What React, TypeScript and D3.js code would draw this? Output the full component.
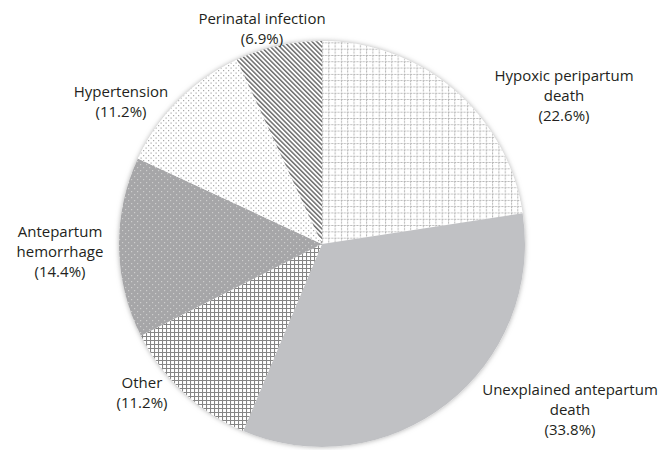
import React from 'react';
import * as d3 from 'd3';

// slices, clockwise from 12 o'clock
const causes = [
  'Hypoxic peripartum death',
  'Unexplained antepartum death',
  'Other',
  'Antepartum hemorrhage',
  'Hypertension',
  'Perinatal infection',
];
const shares = [22.6, 33.8, 11.2, 14.4, 11.2, 6.9];
const labelLines = [
  ['Hypoxic peripartum', 'death', '(22.6%)'],
  ['Unexplained antepartum', 'death', '(33.8%)'],
  ['Other', '(11.2%)'],
  ['Antepartum', 'hemorrhage', '(14.4%)'],
  ['Hypertension', '(11.2%)'],
  ['Perinatal infection', '(6.9%)'],
];

// label block centre, offset from the pie centre
const labelOffset = [
  { dx: 242, dy: -148 },
  { dx: 248, dy: 166 },
  { dx: -180, dy: 149 },
  { dx: -262, dy: 8 },
  { dx: -201, dy: -142 },
  { dx: -60, dy: -215 },
];

const fills = ['url(#gridLight)', '#c0c1c4', 'url(#gridDark)', 'url(#dotsGray)', 'url(#dotsWhite)', 'url(#stripes)'];

const width = 666;
const height = 450;
const cx = 322;
const cy = 244;
const radius = 203;
const lineH = 20;

const App = () => {
  const pie = d3.pie<number>().sort(null).value(d => d);
  const arcs = pie(shares);
  const arc = d3.arc<d3.PieArcDatum<number>>().innerRadius(0).outerRadius(radius);

  return (
    <svg width={width} height={height} style={{ position: 'absolute', left: 0, top: 0 }}>
      <defs>
        <filter id="soft" x="-10%" y="-10%" width="120%" height="120%">
          <feDropShadow dx="0" dy="0" stdDeviation="2.5" floodColor="#9a9a9a" floodOpacity="0.8" />
        </filter>
        <pattern id="gridLight" patternUnits="userSpaceOnUse" width="6.3" height="6.3">
          <rect width="6.3" height="6.3" fill="#fff" />
          <path d="M0.5 0V6.3M0 0.5H6.3" stroke="#b4b4b4" strokeWidth="1" strokeDasharray="2 1" />
        </pattern>
        <pattern id="gridDark" patternUnits="userSpaceOnUse" width="4" height="4">
          <rect width="4" height="4" fill="#fff" />
          <path d="M0.5 0V4M0 0.5H4" stroke="#858585" strokeWidth="1.1" />
        </pattern>
        <pattern id="dotsGray" patternUnits="userSpaceOnUse" width="6" height="6">
          <rect width="6" height="6" fill="#a6a6a8" />
          <rect x="1" y="1" width="1.2" height="1.2" fill="#cdcdcd" />
          <rect x="4" y="4" width="1.2" height="1.2" fill="#cdcdcd" />
        </pattern>
        <pattern id="dotsWhite" patternUnits="userSpaceOnUse" width="5" height="5">
          <rect width="5" height="5" fill="#fff" />
          <rect x="1" y="1" width="1.2" height="1.2" fill="#a8a8a8" />
          <rect x="3.5" y="3.5" width="1.2" height="1.2" fill="#a8a8a8" />
        </pattern>
        <pattern id="stripes" patternUnits="userSpaceOnUse" width="3.3" height="3.3" patternTransform="rotate(-45)">
          <rect width="3.3" height="3.3" fill="#fff" />
          <rect width="1.5" height="3.3" fill="#6e6e6e" />
        </pattern>
      </defs>

      <g transform={`translate(${cx},${cy})`}>
        <circle r={radius} fill="#fff" filter="url(#soft)" />
        {arcs.map((a, i) => (
          <path key={causes[i]} d={arc(a) || ''} fill={fills[i]} />
        ))}

        {labelLines.map((lines, i) => {
          const { dx, dy } = labelOffset[i];
          const y0 = dy - ((lines.length - 1) * lineH) / 2;
          return (
            <text
              key={causes[i]}
              textAnchor="middle"
              fontFamily="'Open Sans', sans-serif"
              fontSize={15}
              fill="#231f20"
            >
              {lines.map((s, j) => (
                <tspan key={j} x={dx} y={y0 + j * lineH} dy="0.35em">
                  {s}
                </tspan>
              ))}
            </text>
          );
        })}
      </g>
    </svg>
  );
};

export default App;
